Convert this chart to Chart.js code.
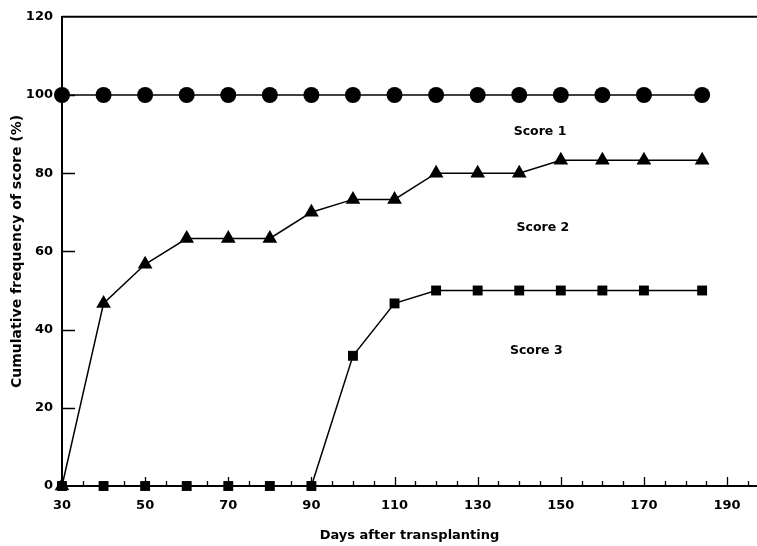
<!DOCTYPE html>
<html>
<head>
<meta charset="utf-8">
<script src="https://cdn.jsdelivr.net/npm/chart.js@4.4.1/dist/chart.umd.min.js"></script>
<style>
  html, body { margin: 0; padding: 0; background: #fff; }
  #wrap { width: 757px; height: 546px; }
</style>
</head>
<body>
<div id="wrap"><canvas id="c" width="757" height="546"></canvas></div>
<script>
// Sampling days after transplanting
const days = [30, 40, 50, 60, 70, 80, 90, 100, 110, 120, 130, 140, 150, 160, 170, 184];

// Cumulative frequency (%) of each score
const score1 = [100, 100, 100, 100, 100, 100, 100, 100, 100, 100, 100, 100, 100, 100, 100, 100];
const score2 = [0, 46.7, 56.7, 63.3, 63.3, 63.3, 70, 73.3, 73.3, 80, 80, 80, 83.3, 83.3, 83.3, 83.3];
const score3 = [0, 0, 0, 0, 0, 0, 0, 33.3, 46.7, 50, 50, 50, 50, 50, 50, 50];

// Axis tick labels
const xTickLabels = [30, 50, 70, 90, 110, 130, 150, 170, 190];
const yTickLabels = [0, 20, 40, 60, 80, 100, 120];

// In-plot series labels and where they sit (data units)
const seriesNames = ['Score 1', 'Score 2', 'Score 3'];
const nameDays = [145, 145.7, 144.1];
const nameLevels = [90.6, 66.1, 34.5];

const FONT = "'DejaVu Sans', 'Liberation Sans', sans-serif";
const INK = '#000';

const toPoints = (ys) => days.map((d, i) => ({ x: d, y: ys[i] }));

function seriesStyle(style, radius) {
  return {
    showLine: true,
    borderColor: INK,
    borderWidth: 1.5,
    pointStyle: style,
    pointRadius: radius,
    pointBackgroundColor: INK,
    pointBorderColor: INK,
    pointBorderWidth: 0,
    pointHoverRadius: radius,
    clip: false,
    tension: 0
  };
}

// Inward tick marks, the top frame line and the in-plot series labels
const framePlugin = {
  id: 'framePlugin',
  beforeDatasetsDraw(chart) {
    const { ctx, chartArea, scales } = chart;
    const xs = scales.x, ys = scales.y;
    ctx.save();
    ctx.strokeStyle = INK;
    ctx.lineWidth = 1.3;
    ctx.beginPath();
    for (let d = 35; d <= 195; d += 5) {
      const px = Math.round(xs.getPixelForValue(d)) + 0.5;
      const len = ((d - 30) % 20 === 0) ? 9 : 5;
      ctx.moveTo(px, chartArea.bottom);
      ctx.lineTo(px, chartArea.bottom - len);
    }
    for (let v = 20; v <= 100; v += 20) {
      const py = Math.round(ys.getPixelForValue(v)) + 0.5;
      ctx.moveTo(chartArea.left, py);
      ctx.lineTo(chartArea.left + 13, py);
    }
    ctx.stroke();
    ctx.lineWidth = 2;
    ctx.beginPath();
    ctx.moveTo(chartArea.left, chartArea.top);
    ctx.lineTo(chartArea.right, chartArea.top);
    ctx.stroke();
    ctx.restore();
  },
  afterDatasetsDraw(chart) {
    const { ctx, scales } = chart;
    ctx.save();
    ctx.fillStyle = INK;
    ctx.font = `bold 12.5px ${FONT}`;
    ctx.textAlign = 'center';
    ctx.textBaseline = 'middle';
    seriesNames.forEach((name, i) => {
      ctx.fillText(name, scales.x.getPixelForValue(nameDays[i]), scales.y.getPixelForValue(nameLevels[i]));
    });
    ctx.restore();
  }
};

new Chart(document.getElementById('c'), {
  type: 'scatter',
  data: {
    datasets: [
      Object.assign({ label: seriesNames[0], data: toPoints(score1) }, seriesStyle('circle', 8)),
      Object.assign({ label: seriesNames[1], data: toPoints(score2) }, seriesStyle('triangle', 8.5)),
      Object.assign({ label: seriesNames[2], data: toPoints(score3) }, seriesStyle('rect', 7))
    ]
  },
  options: {
    responsive: false,
    animation: false,
    events: [],
    layout: { autoPadding: false, padding: { top: 15, right: 0, bottom: 0, left: 0 } },
    plugins: {
      legend: { display: false },
      tooltip: { enabled: false }
    },
    scales: {
      x: {
        type: 'linear',
        min: 30,
        max: 197.2,
        afterBuildTicks: (s) => { s.ticks = xTickLabels.map(v => ({ value: v })); },
        afterFit: (s) => { s.height = 60; },
        grid: { display: true, drawOnChartArea: false, drawTicks: false },
        border: { display: true, color: INK, width: 2 },
        ticks: {
          color: INK,
          padding: 12,
          maxRotation: 0,
          autoSkip: false,
          font: { family: FONT, size: 13, weight: 'bold' }
        },
        title: {
          display: true,
          text: 'Days after transplanting',
          color: INK,
          padding: { top: 0, bottom: 3 },
          font: { family: FONT, size: 13, weight: 'bold' }
        }
      },
      y: {
        type: 'linear',
        min: 0,
        max: 120,
        afterBuildTicks: (s) => { s.ticks = yTickLabels.map(v => ({ value: v })); },
        afterFit: (s) => { s.width = 62; },
        grid: { display: true, drawOnChartArea: false, drawTicks: false },
        border: { display: true, color: INK, width: 2 },
        ticks: {
          color: INK,
          padding: 9,
          font: { family: FONT, size: 13, weight: 'bold' }
        },
        title: {
          display: true,
          text: 'Cumulative frequency of score (%)',
          color: INK,
          padding: { top: 9, bottom: 0 },
          font: { family: FONT, size: 14, weight: 'bold' }
        }
      }
    }
  },
  plugins: [framePlugin]
});
</script>
</body>
</html>
